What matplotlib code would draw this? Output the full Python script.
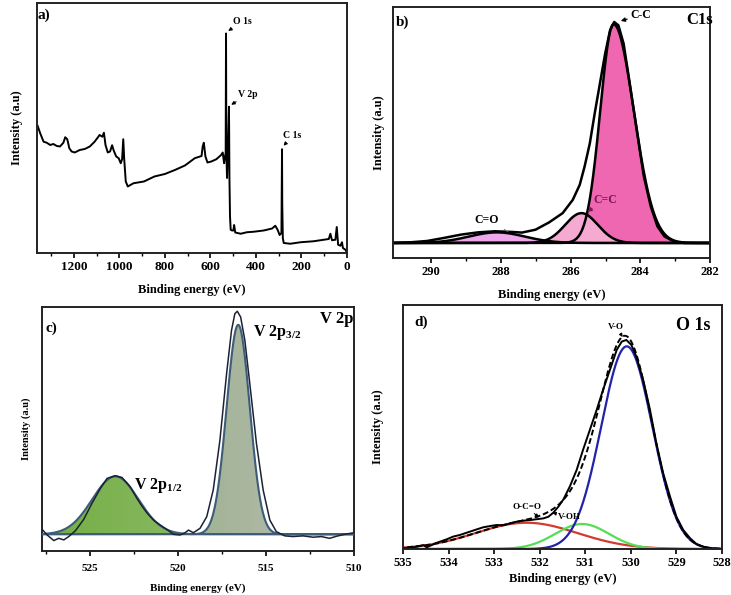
import numpy as np
import matplotlib
matplotlib.use("Agg")
import matplotlib.pyplot as plt
from matplotlib.colors import LinearSegmentedColormap

plt.rcParams['font.family'] = 'Liberation Serif'
plt.rcParams['font.weight'] = 'bold'
plt.rcParams['mathtext.fontset'] = 'custom'
plt.rcParams['mathtext.rm'] = 'Liberation Serif:bold'
plt.rcParams['mathtext.bf'] = 'Liberation Serif:bold'

# a) survey spectrum (binding energy eV, intensity a.u.)
survey_e = [1359, 1348, 1333, 1319, 1304, 1290, 1275, 1261, 1246, 1238, 1229, 1220, 1210, 1196,
            1174, 1152, 1130, 1109, 1094, 1087, 1075, 1068, 1061, 1051, 1041, 1032, 1025, 1014,
            1003, 994, 988, 983, 979, 972, 963, 938, 892, 846, 800, 756, 712, 669, 639, 634, 629,
            622, 613, 596, 574, 553, 546, 540, 536, 533, 531.5, 530, 527, 522, 518.5, 516.5, 514,
            511, 505, 499, 496, 491, 467, 440, 410, 366, 329, 315, 305, 296, 288, 285.5, 284.5,
            282, 278, 249, 204, 146, 102, 80, 73, 66, 51, 45, 39, 29, 22, 18, 7, 0]
survey_i = [50.8, 47.9, 44.5, 44.1, 43.2, 43.6, 42.8, 42.6, 44.1, 46.3, 45.5, 41.9, 40.6, 40.2,
            41.2, 41.6, 42.6, 44.5, 46.3, 47.2, 46.5, 48.1, 43.2, 40.2, 40.6, 43.1, 41.0, 38.6,
            37.9, 35.9, 37.5, 45.5, 37.9, 28.6, 26.6, 27.9, 28.6, 30.6, 31.6, 33.2, 35.0, 37.9,
            38.8, 42.6, 44.1, 38.6, 36.2, 36.6, 37.5, 39.2, 40.2, 35.9, 38.6, 40.0, 87.8, 40.0,
            30.0, 45.0, 58.5, 30.0, 14.6, 9.3, 9.0, 9.0, 11.2, 8.2, 7.7, 8.3, 8.5, 9.0, 9.8, 10.9,
            9.3, 7.2, 8.0, 41.5, 20.0, 6.0, 4.0, 3.7, 4.3, 4.7, 5.3, 5.6, 7.7, 5.1, 5.3, 10.4,
            3.3, 2.9, 4.3, 2.0, 1.3, 0.0]

# b) C1s envelope and fitted components
c1s_env_e = [291.09, 290.60, 290.12, 289.63, 289.14, 288.66, 288.17, 287.69, 287.40, 287.01,
             286.62, 286.23, 285.94, 285.74, 285.60, 285.45, 285.31, 285.16, 285.01, 284.87,
             284.75, 284.63, 284.48, 284.29, 284.09, 283.90, 283.70, 283.51, 283.31, 283.02,
             282.73, 282.0]
c1s_env_i = [0, 0.3, 0.9, 2.3, 3.8, 4.8, 5.3, 5.0, 4.7, 6.0, 9.3, 13.5, 19.5, 26.3, 34.6,
             45.1, 58.6, 72.2, 85.7, 96.2, 100, 98.5, 90.2, 70.7, 49.6, 30.1, 16.5, 7.5, 3.0,
             0.5, 0, 0]
c1s_names = ['C-C', 'C=C', 'C=O']
c1s_centers = [284.77, 285.69, 288.12]
c1s_heights = [99, 13.5, 4.8]
c1s_sig_high = [0.38, 0.47, 0.80]   # width on the high-energy side
c1s_sig_low = [0.58, 0.47, 0.80]    # width on the low-energy side

# c) V 2p raw data and fitted components
v2p_e = [527.74, 527.46, 527.08, 526.80, 526.51, 526.23, 525.85, 525.38, 524.91, 524.43,
         524.05, 523.58, 523.20, 522.73, 522.35, 522.07, 521.79, 521.41, 521.03, 520.65,
         520.27, 519.90, 519.61, 519.42, 519.14, 518.76, 518.38, 518.01, 517.63, 517.25,
         516.97, 516.78, 516.64, 516.45, 516.21, 515.93, 515.55, 515.17, 514.79, 514.42,
         513.94, 513.47, 512.90, 512.33, 511.86, 511.39, 511.01, 510.54, 510.01]
v2p_i = [2.2, -0.3, -2.8, -1.8, -2.5, -1.0, 1.6, 6.7, 13.9, 20.6, 25.1, 26.3, 25.5, 21.3,
         16.1, 12.7, 9.7, 6.4, 4.2, 2.2, 0, -0.3, 0.7, 1.9, 0.7, 2.7, 7.9, 19.9, 42.2, 72.1,
         91.5, 99.0, 100.1, 97.5, 87.0, 67.6, 40.7, 19.9, 6.4, 1.2, -0.7, -1.0, -0.7, -1.3,
         -1.0, -1.8, -0.9, 0.0, 0.7]
v2p_centers = [523.58, 516.59]
v2p_heights = [26.0, 94.0]
v2p_sigmas = [1.31, 0.66]

# d) O 1s raw data and fitted components
o1s_e = [534.99, 534.77, 534.55, 534.48, 534.26, 534.04, 533.90, 533.75, 533.60, 533.38,
         533.24, 533.09, 532.95, 532.80, 532.65, 532.51, 532.36, 532.21, 532.07, 531.92,
         531.81, 531.70, 531.59, 531.48, 531.34, 531.19, 531.05, 530.90, 530.75, 530.61,
         530.46, 530.31, 530.20, 530.10, 529.99, 529.88, 529.73, 529.58, 529.44, 529.29,
         529.14, 529.00, 528.85, 528.70, 528.56, 528.41, 528.26, 528.00]
o1s_i = [0.3, 0.8, 1.9, 0.8, 3.0, 4.7, 6.0, 6.8, 7.9, 9.5, 10.5, 11.1, 11.6, 11.5, 12.4,
         13.2, 13.7, 14.0, 14.4, 14.8, 15.6, 17.6, 20.5, 24.0, 30.2, 38.2, 47.9, 57.6, 67.3,
         77.0, 86.6, 96.3, 100.3, 101.1, 98.7, 93.1, 81.8, 67.3, 51.1, 36.6, 25.3, 15.6, 9.2,
         5.2, 2.4, 1.1, 0.3, 0.0]
o1s_names = ['V-O', 'V-OH', 'O-C=O']
o1s_centers = [530.09, 531.07, 532.29]
o1s_heights = [98.0, 12.1, 12.7]
o1s_sigmas = [0.56, 0.59, 1.12]
o1s_colors = ['#2222A8', '#55DD55', '#D23B2E']


def gauss(x, c, h, s):
    return h * np.exp(-(x - c) ** 2 / (2 * s ** 2))


def gauss2(x, c, h, s_hi, s_lo):
    s = np.where(x > c, s_hi, s_lo)
    return h * np.exp(-(x - c) ** 2 / (2 * s ** 2))


def style_axes(ax, fs=9, pad=6):
    for sp in ax.spines.values():
        sp.set_linewidth(1.4)
        sp.set_color('#222222')
    ax.set_yticks([])
    ax.tick_params(axis='x', which='both', direction='out', labelsize=fs)
    ax.tick_params(axis='x', which='major', length=3.5, width=1.2, pad=pad)
    ax.tick_params(axis='x', which='minor', length=2.5, width=1.0)
    for lab in ax.get_xticklabels():
        lab.set_fontweight('bold')


def grad_fill(ax, x, y, c1, c2):
    poly = ax.fill_between(x, 0, y, color='none', lw=0)
    cmap = LinearSegmentedColormap.from_list('g', [c1, c2])
    img = ax.imshow(np.linspace(0, 1, 256).reshape(1, -1), cmap=cmap, aspect='auto',
                    extent=[x.max(), x.min(), 0, y.max()], origin='lower', zorder=1)
    img.set_clip_path(poly.get_paths()[0], transform=ax.transData)


fig = plt.figure(figsize=(7.31, 5.95), dpi=100)

# ---------- a) survey ----------
ax = fig.add_axes([0.0506, 0.5748, 0.4241, 0.4202])
ax.plot(survey_e, survey_i, color='black', lw=1.4)
ax.set_xlim(1362, 0)
ax.set_ylim(0, 100)
ax.set_xticks(range(0, 1201, 200))
ax.set_xticks(range(100, 1301, 200), minor=True)
style_axes(ax, 9.5, pad=2)
ax.set_xlabel('Binding energy (eV)', fontsize=9, fontweight='bold', labelpad=8)
ax.set_ylabel('Intensity (a.u)', fontsize=9, fontweight='bold', labelpad=10)
ax.text(0.002, 0.935, 'a)', transform=ax.transAxes, fontsize=11, fontweight='bold')
arr = dict(arrowstyle='-|>', lw=0.8, color='black', mutation_scale=5, shrinkA=0, shrinkB=1)
ax.annotate('O 1s', xy=(527, 88.5), xytext=(500, 92.7), fontsize=7, fontweight='bold',
            va='center', arrowprops=arr)
ax.annotate('V 2p', xy=(514, 59), xytext=(478, 63.4), fontsize=7, fontweight='bold',
            va='center', arrowprops=arr)
ax.annotate('C 1s', xy=(283, 42.5), xytext=(279, 46.8), fontsize=7, fontweight='bold',
            va='center', arrowprops=arr)

# ---------- b) C1s ----------
ax = fig.add_axes([0.5376, 0.5664, 0.4337, 0.4219])
xb = np.linspace(291.2, 281.9, 900)
fill_cols = ['#EE67B0', '#F6AAD2', '#EEA6EC']
comps = [gauss2(xb, c, h, s1, s2)
         for c, h, s1, s2 in zip(c1s_centers, c1s_heights, c1s_sig_high, c1s_sig_low)]
for yb, col in zip([comps[0], comps[2], comps[1]], [fill_cols[0], fill_cols[2], fill_cols[1]]):
    ax.fill_between(xb, 0, yb, color=col, lw=0)
    ax.plot(xb, yb, color='black', lw=1.8)
ax.plot(c1s_env_e, c1s_env_i, color='black', lw=1.8)
ax.axhline(0, color='black', lw=1.5)
ax.set_xlim(291.1, 282)
ax.set_ylim(-6.8, 106.8)
ax.set_xticks([290, 288, 286, 284, 282])
ax.set_xticks([289, 287, 285, 283], minor=True)
style_axes(ax, 9, pad=2)
ax.set_xlabel('Binding energy (eV)', fontsize=9, fontweight='bold', labelpad=8)
ax.set_ylabel('Intensity (a.u)', fontsize=9, fontweight='bold', labelpad=6)
ax.text(0.01, 0.925, 'b)', transform=ax.transAxes, fontsize=11, fontweight='bold')
ax.text(282.68, 101, 'C1s', fontsize=12, fontweight='bold', va='center')
arr = dict(arrowstyle='-|>', lw=0.9, color='black', mutation_scale=6, shrinkA=0, shrinkB=1)
ax.annotate('C-C', xy=(284.6, 100.3), xytext=(284.3, 103), fontsize=8.5, fontweight='bold',
            va='center', arrowprops=arr)
ax.annotate('C=C', xy=(285.55, 13.8), xytext=(285.35, 19.5), fontsize=8.5, fontweight='bold',
            color='#7A1A55', va='center',
            arrowprops=dict(arrowstyle='-|>', lw=0.9, color='#7A1A55', mutation_scale=6,
                            shrinkA=0, shrinkB=1))
ax.annotate('C=O', xy=(287.8, 5.2), xytext=(288.76, 10.5), fontsize=8.5, fontweight='bold',
            va='center', arrowprops=dict(arrowstyle='-', lw=0.7, color='#777777', shrinkA=2,
                                         shrinkB=0))

# ---------- c) V 2p ----------
ax = fig.add_axes([0.0575, 0.0739, 0.4268, 0.4101])
xc = np.linspace(528, 509.8, 900)
grad_cols = [('#72AE42', '#A4C487'), ('#86A870', '#BCBEB8')]
for c, h, s, (g1, g2) in zip(v2p_centers, v2p_heights, v2p_sigmas, grad_cols):
    yc = gauss(xc, c, h, s)
    grad_fill(ax, xc, yc, g1, g2)
    ax.plot(xc, yc, color='#3D5C7A', lw=1.5, zorder=3)
ax.plot(v2p_e, v2p_i, color='#1B2233', lw=1.1, zorder=4)
ax.axhline(0, color='#3D5C7A', lw=1.3, zorder=3)
ax.set_xlim(527.75, 510)
ax.set_ylim(-7.5, 102)
ax.set_xticks([525, 520, 515, 510])
ax.set_xticks([527.5, 522.5, 517.5, 512.5], minor=True)
style_axes(ax, 8, pad=6)
ax.set_xlabel('Binding energy (eV)', fontsize=8, fontweight='bold', labelpad=7)
ax.set_ylabel('Intensity (a.u)', fontsize=7.5, fontweight='bold', labelpad=8)
ax.text(0.01, 0.9, 'c)', transform=ax.transAxes, fontsize=11, fontweight='bold')
ax.text(511.96, 96.7, 'V 2p', fontsize=12, fontweight='bold', va='center')
ax.text(515.74, 90.6, r'V 2p$_{\mathbf{3/2}}$', fontsize=11.5, fontweight='bold', va='center')
ax.text(522.54, 22, r'V 2p$_{\mathbf{1/2}}$', fontsize=11.5, fontweight='bold', va='center')

# ---------- d) O 1s ----------
ax = fig.add_axes([0.5513, 0.0773, 0.4364, 0.4101])
xd = np.linspace(535.1, 527.9, 800)
parts = [gauss(xd, c, h, s) for c, h, s in zip(o1s_centers, o1s_heights, o1s_sigmas)]
for yd, col in zip(parts[::-1], o1s_colors[::-1]):
    ax.plot(xd, yd, color=col, lw=1.6)
ax.plot(xd, np.sum(parts, axis=0), color='black', lw=1.4, ls=(0, (3, 1.5)))
ax.plot(o1s_e, o1s_i, color='black', lw=1.4)
ax.set_xlim(535, 528)
ax.set_ylim(0, 118)
ax.set_xticks(range(528, 536))
style_axes(ax, 9, pad=2)
ax.set_xlabel('Binding energy (eV)', fontsize=9, fontweight='bold', labelpad=3)
ax.set_ylabel('Intensity (a.u)', fontsize=9, fontweight='bold', labelpad=14)
ax.text(0.035, 0.915, 'd)', transform=ax.transAxes, fontsize=11, fontweight='bold')
ax.text(529.0, 108, 'O 1s', fontsize=13, fontweight='bold', va='center')
arr = dict(arrowstyle='-|>', lw=0.7, color='black', mutation_scale=5, shrinkA=0, shrinkB=0)
ax.annotate('V-O', xy=(530.18, 102.5), xytext=(530.5, 107.5), fontsize=6.5,
            fontweight='bold', va='center', arrowprops=arr)
ax.annotate('O-C=O', xy=(532.02, 15.2), xytext=(532.6, 20.5), fontsize=6.5,
            fontweight='bold', va='center', arrowprops=arr)
ax.annotate('V-OH', xy=(531.72, 17.5), xytext=(531.6, 15.5), fontsize=6.5,
            fontweight='bold', va='center', arrowprops=arr)

fig.savefig('out.png', dpi=100)
